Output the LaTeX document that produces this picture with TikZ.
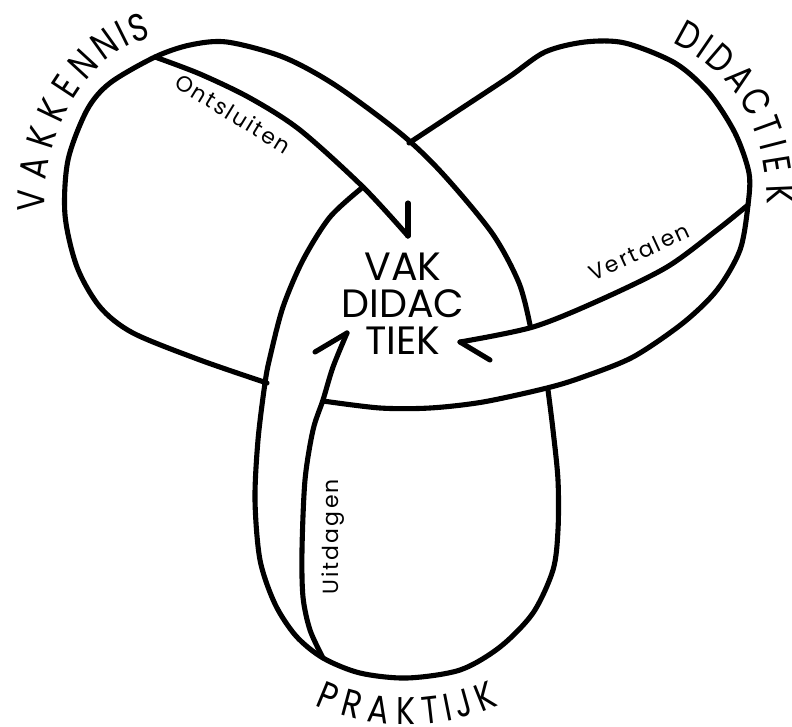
\documentclass[tikz,border=0pt]{standalone}
\usepackage{fontspec}
\setmainfont{Poppins}
\newfontfamily\outerfont{Poppins}[FakeStretch=0.82]
\newfontfamily\labelfont{Poppins}[LetterSpace=10]
\usepackage{tikz}

\newcommand{\bigsans}{\outerfont\fontsize{22}{24}\selectfont}
\newcommand{\coresans}{\fontsize{22.5}{21}\selectfont}
\newcommand{\smallsans}{\labelfont\fontsize{12.5}{15}\selectfont}

\begin{document}
\begin{tikzpicture}[x=0.02cm, y=-0.02cm,
    strand/.style={line width=2.9pt, line cap=round, line join=round},
    bigletter/.style={font=\bigsans, sloped, allow upside down, anchor=base, inner sep=0pt},
    smalllabel/.style={font=\smallsans, sloped, allow upside down, anchor=base, inner sep=0pt}]
  \useasboundingbox (0,0) rectangle (792,727);

  \coordinate (vkSplit) at (155,57);
  \coordinate (dSplit) at (748,205);
  \coordinate (pSplit) at (323,658);
  \coordinate (ontTip) at (408,236);
  \coordinate (ontBarb) at (408,203);
  \coordinate (verTip) at (460,342);
  \coordinate (verBarb) at (490,360);
  \coordinate (uitTip) at (347,333);
  \coordinate (uitBarb) at (315,352);

  \draw[strand] plot[smooth] coordinates {(267,383) (200,360) (133,333) (100,307) (77,267) (65,215) (68,160) (87,110) (110,83) (vkSplit) (190,45) (227,42) (283,57) (335,85) (400,133) (442,173) (492,233) (519,283) (530,325)};
  \draw[strand] plot[smooth] coordinates {(vkSplit) (200,74) (250,98) (300,130) (363,187) (ontTip)};
  \draw[strand] (ontTip) -- (ontBarb);

  \draw[strand] plot[smooth] coordinates {(409,143) (459,110) (509,77) (545,52) (585,42) (625,43) (675,63) (709,93) (735,133) (749,173) (dSplit) (740,250) (717,290) (683,323) (633,357) (583,377) (547,388) (483,402) (430,408) (380,408) (323,401)};
  \draw[strand] plot[smooth] coordinates {(dSplit) (717,230) (667,267) (600,300) (533,327) (verTip)};
  \draw[strand] (verTip) -- (verBarb);

  \draw[strand] plot[smooth] coordinates {(548,390) (553,430) (558,480) (558,530) (553,570) (533,613) (500,647) (460,670) (407,678) (360,673) (pSplit) (296,636) (275,604) (260,560) (255,500) (258,440) (265,383) (270,357) (283,307) (303,260) (330,217) (363,187)};
  \draw[strand] plot[smooth] coordinates {(pSplit) (310,630) (303,597) (302,550) (305,480) (313,430) (323,400) (333,367) (uitTip)};
  \draw[strand] (uitTip) -- (uitBarb);

  \node[font=\coresans, align=center, inner sep=0pt] (core) at (403,304) {VAK\\DIDAC\\TIEK};

  \foreach \ch/\p [count=\i] in {V/.061, A/.184, K/.304, K/.418, E/.528, N/.646, N/.778, I/.868, S/.946}
    \path (45,216) .. controls (40,130) and (90,50) .. (152,38) node[bigletter, pos=\p] (vk\i) {\ch};
  \foreach \ch/\p [count=\i] in {D/.069, I/.165, D/.260, A/.397, C/.532, T/.655, I/.738, E/.820, K/.938}
    \path (670,42) .. controls (730,70) and (768,120) .. (767,212) node[bigletter, pos=\p] (di\i) {\ch};
  \foreach \ch/\p [count=\i] in {P/.069, R/.208, A/.353, K/.498, T/.630, I/.723, J/.807, K/.931}
    \path (311,703) .. controls (370,732) and (442,732) .. (503,703) node[bigletter, pos=\p] (pr\i) {\ch};

  \path (176,88) -- (282,153) node[smalllabel, midway] (ont) {Ontsluiten};
  \path (597,280) -- (688,238) node[smalllabel, midway] (ver) {Vertalen};
  \path (338,590) -- (338,484) node[smalllabel, midway] (uit) {Uitdagen};
\end{tikzpicture}
\end{document}
